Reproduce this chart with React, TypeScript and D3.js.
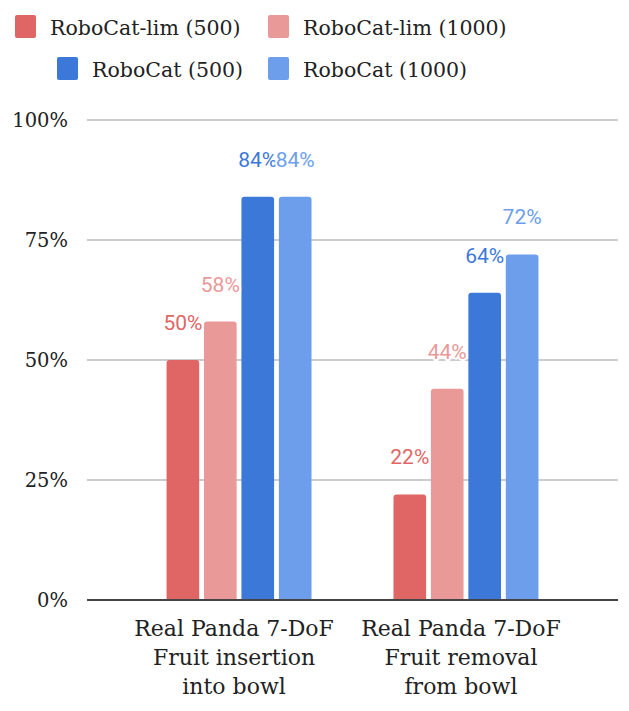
import React from "react";
import * as d3 from "d3";

const categories = [
  ["Real Panda 7-DoF", "Fruit insertion", "into bowl"],
  ["Real Panda 7-DoF", "Fruit removal", "from bowl"],
];
const seriesNames = ["RoboCat-lim (500)", "RoboCat-lim (1000)", "RoboCat (500)", "RoboCat (1000)"];
const seriesColors = ["#e06666", "#ea9999", "#3c78d8", "#6d9eeb"];
const limValues500 = [50, 22];
const limValues1000 = [58, 44];
const catValues500 = [84, 64];
const catValues1000 = [84, 72];
const yTicks = [0, 25, 50, 75, 100];

const W = 629;
const H = 711;
const serif = "'DejaVu Serif', 'Liberation Serif', 'Noto Serif', serif";
const sans = "Roboto, 'Noto Sans', sans-serif";

function topRoundedRect(x: number, y: number, w: number, h: number, r: number) {
  const rr = Math.min(r, h, w / 2);
  return `M${x},${y + h}V${y + rr}Q${x},${y} ${x + rr},${y}H${x + w - rr}Q${x + w},${y} ${x + w},${y + rr}V${y + h}Z`;
}

export default function App() {
  const series = [limValues500, limValues1000, catValues500, catValues1000];
  const y = d3.scaleLinear().domain([0, 100]).range([600, 120]);
  const x0 = d3
    .scaleBand<number>()
    .domain(categories.map((_, i) => i))
    .range([87, 618])
    .paddingInner(0.34)
    .paddingOuter(0.34);
  const x1 = d3
    .scaleBand<number>()
    .domain(seriesNames.map((_, i) => i))
    .range([0, x0.bandwidth()])
    .paddingInner(0.128)
    .paddingOuter(0.064);

  const legendItems = [
    { sx: 15, ty: 35, i: 0 },
    { sx: 268, ty: 35, i: 1 },
    { sx: 57, ty: 77, i: 2 },
    { sx: 268, ty: 77, i: 3 },
  ];
  const serifStyle = { fontFamily: serif };
  const sansStyle = { fontFamily: sans };

  return (
    <svg width={W} height={H} style={{ position: "absolute", left: 0, top: 0, background: "#fff" }}>
      {legendItems.map((l) => (
        <g key={l.i}>
          <rect x={l.sx} y={l.ty - 20} width={21} height={23} rx={2} fill={seriesColors[l.i]} />
          <text x={l.sx + 35} y={l.ty} style={serifStyle} fontSize={20.5} fill="#222">
            {seriesNames[l.i]}
          </text>
        </g>
      ))}
      {yTicks.map((t) => (
        <g key={t}>
          {t !== 0 && <line x1={87} x2={618} y1={y(t)} y2={y(t)} stroke="#cccccc" strokeWidth={2} />}
          <text x={68} y={y(t) + 7} textAnchor="end" style={serifStyle} fontSize={19.5} fill="#222">
            {t}%
          </text>
        </g>
      ))}
      {categories.map((cat, ci) => (
        <g key={ci} transform={`translate(${x0(ci)},0)`}>
          {series.map((vals, si) => {
            const bx = x1(si)!;
            const by = y(vals[ci]);
            return (
              <path
                key={si}
                d={topRoundedRect(bx, by, x1.bandwidth(), y(0) - by, 3)}
                fill={seriesColors[si]}
              />
            );
          })}
        </g>
      ))}
      <line x1={87} x2={618} y1={y(0)} y2={y(0)} stroke="#444" strokeWidth={2} />
      {categories.map((cat, ci) => (
        <g key={"l" + ci} transform={`translate(${x0(ci)},0)`}>
          {series.map((vals, si) => (
            <text
              key={si}
              x={x1(si)! + x1.bandwidth() / 2}
              y={y(vals[ci]) - 30}
              textAnchor="middle"
              style={sansStyle}
              fontSize={21}
              fill={seriesColors[si]}
              stroke="#fff"
              strokeWidth={4}
              strokeLinejoin="round"
              paintOrder="stroke"
            >
              {vals[ci]}%
            </text>
          ))}
        </g>
      ))}
      {categories.map((lines, ci) => (
        <text
          key={"c" + ci}
          x={x0(ci)! + x0.bandwidth() / 2 - 5}
          textAnchor="middle"
          style={serifStyle}
          fontSize={22}
          fill="#222"
        >
          {lines.map((ln, li) => (
            <tspan key={li} x={x0(ci)! + x0.bandwidth() / 2 - 5} y={636 + li * 29}>
              {ln}
            </tspan>
          ))}
        </text>
      ))}
    </svg>
  );
}
